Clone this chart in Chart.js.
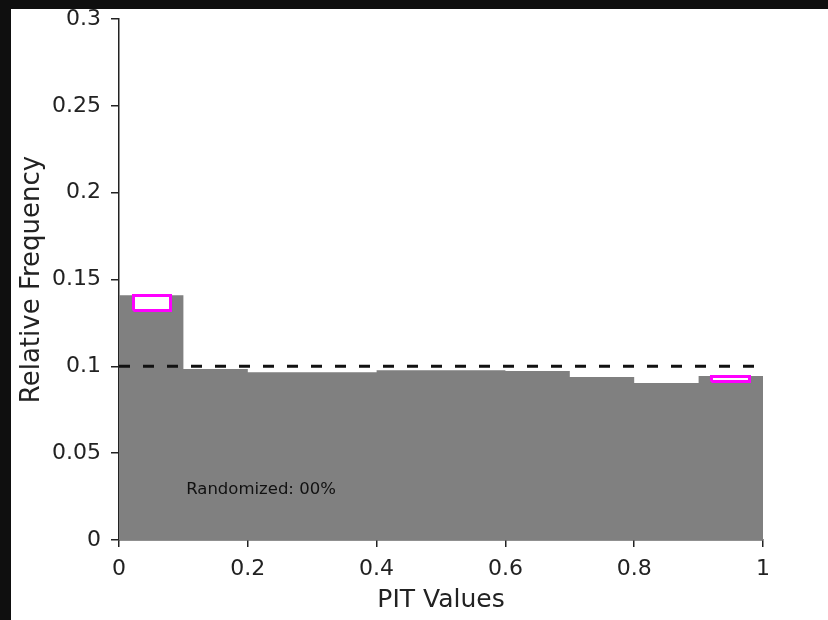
<!DOCTYPE html>
<html>
<head>
<meta charset="utf-8">
<script src="https://cdn.jsdelivr.net/npm/chart.js@4.4.1/dist/chart.umd.min.js"></script>
<style>
  html, body { margin: 0; padding: 0; background: #0f0f0f; width: 828px; height: 620px; overflow: hidden; }
  #frame { position: absolute; left: 11px; top: 9px; width: 817px; height: 611px; background: #ffffff; }
  #pit { position: absolute; left: 0; top: 0; }
</style>
</head>
<body>
<div id="frame"><canvas id="pit" width="817" height="611"></canvas></div>
<script>
// ========================================
// DATA
// ========================================

// histogram bins: left edges and relative frequency
const binEdges = [0, 0.1, 0.2, 0.3, 0.4, 0.5, 0.6, 0.7, 0.8, 0.9, 1.0];
const binFreq = [0.1410, 0.0985, 0.0966, 0.0966, 0.0977, 0.0977, 0.0973, 0.0939, 0.0904, 0.0944];

// magenta boxes (randomized spread)
const boxLeft = [0.0225, 0.920];
const boxRight = [0.080, 0.979];
const boxLow = [0.1322, 0.0913];
const boxHigh = [0.1408, 0.0941];

// uniform reference level
const uniformLevel = 0.1;

// tick labels
const xTicks = [0, 0.2, 0.4, 0.6, 0.8, 1];
const xTickLabels = ['0', '0.2', '0.4', '0.6', '0.8', '1'];
const yTicks = [0, 0.05, 0.1, 0.15, 0.2, 0.25, 0.3];
const yTickLabels = ['0', '0.05', '0.1', '0.15', '0.2', '0.25', '0.3'];

const noteText = 'Randomized: 00%';
const notePos = { x: 0.2205, y: 0.0288 };

// ========================================
// DATASETS
// ========================================

const FONT = "'DejaVu Sans', sans-serif";
const INK = '#222222';

// stepped outline for the histogram, last value repeated at x = 1
const histPoints = binEdges.map((x, i) => ({ x: x, y: binFreq[Math.min(i, binFreq.length - 1)] }));

function boxPoints(i) {
    return [
        { x: boxLeft[i], y: boxLow[i] },
        { x: boxRight[i], y: boxLow[i] },
        { x: boxRight[i], y: boxHigh[i] },
        { x: boxLeft[i], y: boxHigh[i] },
        { x: boxLeft[i], y: boxLow[i] }
    ];
}

const boxDatasets = boxLeft.map((_, i) => ({
    label: 'box' + i,
    data: boxPoints(i),
    borderColor: '#ff00ff',
    backgroundColor: '#ffffff',
    borderWidth: 3,
    fill: 'shape',
    pointRadius: 0,
    tension: 0
}));

const noteLabel = {
    id: 'noteLabel',
    afterDatasetsDraw(chart) {
        const { ctx, scales } = chart;
        ctx.save();
        ctx.font = '16.5px ' + FONT;
        ctx.fillStyle = '#111111';
        ctx.textAlign = 'center';
        ctx.textBaseline = 'middle';
        ctx.fillText(noteText, scales.x.getPixelForValue(notePos.x), scales.y.getPixelForValue(notePos.y));
        ctx.restore();
    }
};

new Chart(document.getElementById('pit'), {
    type: 'line',
    data: {
        datasets: [
            ...boxDatasets,
            {
                label: 'uniform',
                data: [{ x: 0, y: uniformLevel }, { x: 1, y: uniformLevel }],
                borderColor: '#111111',
                borderWidth: 3,
                borderDash: [11, 13],
                borderCapStyle: 'butt',
                pointRadius: 0,
                fill: false
            },
            {
                label: 'PIT',
                data: histPoints,
                stepped: true,
                borderColor: 'rgba(0,0,0,0)',
                borderWidth: 0,
                backgroundColor: '#808080',
                fill: 'origin',
                pointRadius: 0
            }
        ]
    },
    options: {
        responsive: false,
        animation: false,
        devicePixelRatio: 1,
        layout: { padding: { top: 10, right: 65, left: 0, bottom: 0 } },
        plugins: {
            legend: { display: false },
            tooltip: { enabled: false },
            title: { display: false }
        },
        scales: {
            x: {
                type: 'linear',
                min: 0,
                max: 1,
                z: 1,
                afterBuildTicks: scale => { scale.ticks = xTicks.map(v => ({ value: v })); },
                afterFit: scale => {
                    scale.height = 80;
                    scale.paddingLeft = 0;
                    scale.paddingRight = 0;
                },
                ticks: {
                    color: INK,
                    font: { family: FONT, size: 22 },
                    padding: 9,
                    maxRotation: 0,
                    callback: (v, i) => xTickLabels[i]
                },
                grid: { drawOnChartArea: false, tickLength: 7, color: '#222', lineWidth: 1.5 },
                border: { color: '#222', width: 1.5 },
                title: {
                    display: true,
                    text: 'PIT Values',
                    color: INK,
                    font: { family: FONT, size: 25 },
                    padding: { top: 0, bottom: 5 }
                }
            },
            y: {
                type: 'linear',
                min: 0,
                max: 0.3,
                z: 1,
                afterBuildTicks: scale => { scale.ticks = yTicks.map(v => ({ value: v })); },
                afterFit: scale => {
                    scale.width = 108;
                    scale.paddingTop = 0;
                    scale.paddingBottom = 0;
                },
                ticks: {
                    color: INK,
                    font: { family: FONT, size: 22 },
                    padding: 10,
                    callback: (v, i) => yTickLabels[i]
                },
                grid: { drawOnChartArea: false, tickLength: 8, color: '#222', lineWidth: 1.5 },
                border: { color: '#222', width: 1.5 },
                title: {
                    display: true,
                    text: 'Relative Frequency',
                    color: INK,
                    font: { family: FONT, size: 26 },
                    padding: { top: 6, bottom: 0 }
                }
            }
        }
    },
    plugins: [noteLabel]
});
</script>
</body>
</html>
